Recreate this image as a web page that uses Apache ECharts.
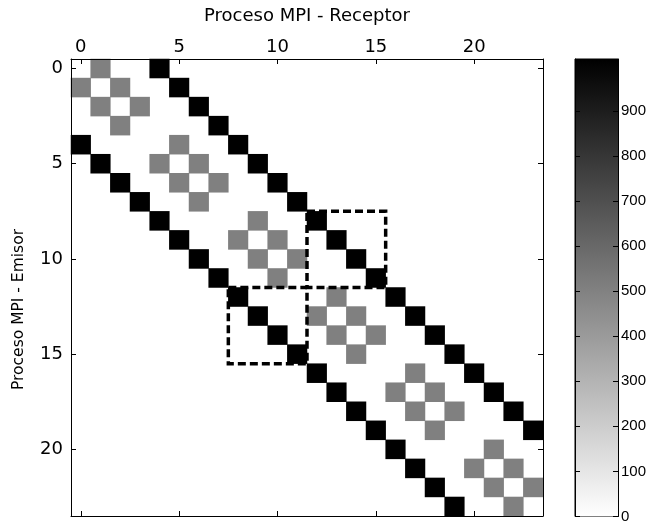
<!DOCTYPE html>
<html><head><meta charset="utf-8">
<script src="https://cdn.jsdelivr.net/npm/echarts@6/dist/echarts.min.js"></script>
<style>html,body{margin:0;padding:0;background:#fff}#c{width:657px;height:524px}</style>
</head><body><div id="c"></div>
<script>
const processIds = ['0','1','2','3','4','5','6','7','8','9','10','11','12','13','14','15','16','17','18','19','20','21','22','23'];
const axisTickLabels = [0, 5, 10, 15, 20];
const colorbarTicks = [0, 100, 200, 300, 400, 500, 600, 700, 800, 900];
const colorMin = 0;
const colorMax = 1015;
// [receptor (col), emisor (row), value]
const strongCells = [
  [4,0,1015],[5,1,1015],[6,2,1015],[7,3,1015],[8,4,1015],[9,5,1015],[10,6,1015],[11,7,1015],
  [12,8,1015],[13,9,1015],[14,10,1015],[15,11,1015],[16,12,1015],[17,13,1015],[18,14,1015],[19,15,1015],
  [20,16,1015],[21,17,1015],[22,18,1015],[23,19,1015],
  [0,4,1015],[1,5,1015],[2,6,1015],[3,7,1015],[4,8,1015],[5,9,1015],[6,10,1015],[7,11,1015],
  [8,12,1015],[9,13,1015],[10,14,1015],[11,15,1015],[12,16,1015],[13,17,1015],[14,18,1015],[15,19,1015],
  [16,20,1015],[17,21,1015],[18,22,1015],[19,23,1015]
];
const weakCells = [
  [1,0,505],[0,1,505],[2,1,505],[1,2,505],[3,2,505],[2,3,505],
  [5,4,505],[4,5,505],[6,5,505],[5,6,505],[7,6,505],[6,7,505],
  [9,8,505],[8,9,505],[10,9,505],[9,10,505],[11,10,505],[10,11,505],
  [13,12,505],[12,13,505],[14,13,505],[13,14,505],[15,14,505],[14,15,505],
  [17,16,505],[16,17,505],[18,17,505],[17,18,505],[19,18,505],[18,19,505],
  [21,20,505],[20,21,505],[22,21,505],[21,22,505],[23,22,505],[22,23,505]
];
// [colStart, colEnd, rowStart, rowEnd]
const dashedBoxes = [[12,15,8,11],[8,11,12,15]];

const chart = echarts.init(document.getElementById('c'), null, {renderer:'canvas'});
const showIdx = (i) => axisTickLabels.indexOf(Number(i)) >= 0;
const FONT = 'DejaVu Sans';
const lineStyle = {color:'#000', width:1};

chart.setOption({
  backgroundColor:'#fff',
  animation:false,
  grid:[
    {left:71, right:114, top:59, bottom:8, show:false},
    {left:575, right:39, top:59, bottom:2, show:true, borderColor:'#000', borderWidth:1, backgroundColor:'transparent'}
  ],
  xAxis:[
    {type:'category', gridIndex:0, data:processIds, position:'top', z:10,
     name:'Proceso MPI - Receptor', nameLocation:'middle', nameGap:34,
     nameTextStyle:{fontFamily:FONT, fontSize:18, color:'#000'},
     axisLine:{show:true, lineStyle}, splitLine:{show:false},
     axisTick:{show:true, inside:true, length:5, alignWithLabel:true, interval:showIdx, lineStyle},
     axisLabel:{show:true, interval:showIdx, margin:3, fontFamily:FONT, fontSize:18, color:'#000'}},
    {type:'category', gridIndex:0, data:processIds, position:'bottom', z:10,
     axisLine:{show:true, lineStyle}, splitLine:{show:false},
     axisTick:{show:true, inside:true, length:5, alignWithLabel:true, interval:showIdx, lineStyle},
     axisLabel:{show:false}},
    {type:'category', gridIndex:1, data:['cb'], show:false}
  ],
  yAxis:[
    {type:'category', gridIndex:0, data:processIds, inverse:true, position:'left', z:10,
     name:'Proceso MPI - Emisor', nameLocation:'middle', nameGap:44, nameRotate:90,
     nameTextStyle:{fontFamily:FONT, fontSize:15.5, color:'#000', padding:[0,44,0,0]},
     axisLine:{show:true, lineStyle}, splitLine:{show:false},
     axisTick:{show:true, inside:true, length:5, alignWithLabel:true, interval:showIdx, lineStyle},
     axisLabel:{show:true, interval:showIdx, margin:8, fontFamily:FONT, fontSize:18, color:'#000'}},
    {type:'category', gridIndex:0, data:processIds, inverse:true, position:'right', z:10,
     axisLine:{show:true, lineStyle}, splitLine:{show:false},
     axisTick:{show:true, inside:true, length:5, alignWithLabel:true, interval:showIdx, lineStyle},
     axisLabel:{show:false}},
    {type:'value', gridIndex:1, min:colorMin, max:colorMax, position:'right', z:10,
     axisLine:{show:true, lineStyle}, splitLine:{show:false},
     axisTick:{show:true, inside:true, length:5, customValues:colorbarTicks, lineStyle},
     axisLabel:{show:true, customValues:colorbarTicks, margin:3, fontFamily:'Liberation Sans', fontSize:15, color:'#000'}},
    {type:'value', gridIndex:1, min:colorMin, max:colorMax, position:'left', z:10,
     axisLine:{show:true, lineStyle}, splitLine:{show:false},
     axisTick:{show:true, inside:true, length:5, customValues:colorbarTicks, lineStyle},
     axisLabel:{show:false}}
  ],
  visualMap:{show:false, type:'continuous', min:colorMin, max:colorMax, seriesIndex:[0], dimension:2,
    inRange:{color:['#ffffff','#000000']}},
  series:[
    {type:'heatmap', xAxisIndex:0, yAxisIndex:0, data:strongCells.concat(weakCells),
     itemStyle:{borderWidth:0}, emphasis:{disabled:true}, z:2},
    {type:'custom', xAxisIndex:0, yAxisIndex:0, data:dashedBoxes, clip:false, z:5, silent:true,
     encode:{x:[0,1], y:[2,3]},
     renderItem:function(params, api){
       const p0 = api.coord([api.value(0), api.value(2)]);
       const p1 = api.coord([api.value(1), api.value(3)]);
       const s = api.size([1,1]);
       return {type:'rect',
         shape:{x:p0[0]-s[0]/2, y:p0[1]-s[1]/2, width:p1[0]-p0[0]+s[0], height:p1[1]-p0[1]+s[1]},
         style:{fill:null, stroke:'#000', lineWidth:3.5, lineDash:[8,4]}};
     }},
    {type:'bar', xAxisIndex:2, yAxisIndex:2, data:[colorMax], barWidth:'100%', silent:true,
     itemStyle:{color:new echarts.graphic.LinearGradient(0,0,0,1,[{offset:0,color:'#000000'},{offset:1,color:'#ffffff'}])}}
  ]
});
</script></body></html>
